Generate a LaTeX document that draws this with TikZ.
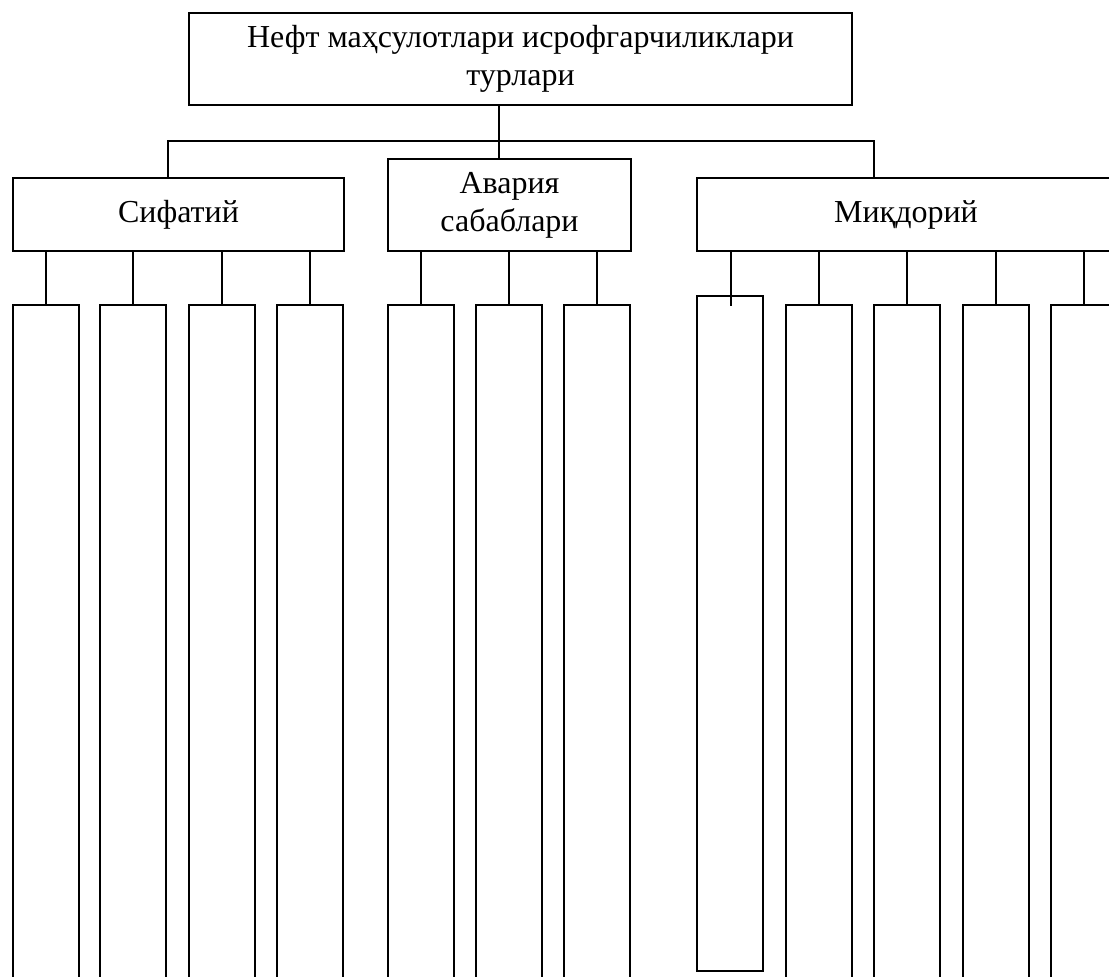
\documentclass[tikz,border=0pt]{standalone}
\usepackage{fontspec}
\setmainfont{Liberation Serif}
\usetikzlibrary{positioning, calc}

\tikzset{
  box/.style 2 args={draw, line width=0.8pt, inner sep=0pt, outer sep=0pt, anchor=north west,
    align=center, minimum width=#1*0.5pt, minimum height=#2*0.5pt,
    font=\fontsize{16}{19}\selectfont},
  leaf/.style={box={66}{700}},
  link/.style={line width=0.8pt},
}

\begin{document}
\begin{tikzpicture}[x=0.5pt,y=-0.5pt]

\useasboundingbox (0,0) rectangle (1109,977);
\clip (0,0) rectangle (1109,977);

\def\ytop{141}
\def\yleaf{305}

% main box
\node[box={663}{92}] (top) at (189,13) {Нефт маҳсулотлари исрофгарчиликлари\\турлари};

% second level
\node[box={331}{73}] (sif) at (13,178) {Сифатий};
\node[box={243}{92}] (avr) at (388,159) {Авария\\сабаблари};
\node[box={418}{73}] (mik) at (697,178) {Миқдорий};

% bus
\coordinate (hub) at (499,\ytop);
\coordinate (hl) at (168,\ytop);
\coordinate (hr) at (874,\ytop);
\draw[link] (top.south -| hub) -- (hub) -- (avr.north -| hub);
\draw[link] (hl |- sif.north) -- (hl) -- (hr) -- (hr |- mik.north);

% leaves
\foreach \x [count=\i] in {13,100,189,277} {
  \node[leaf] (s\i) at (\x,\yleaf) {};
  \draw[link] (s\i.north |- sif.south) -- (s\i.north);
}
\foreach \x [count=\i] in {388,476,564} {
  \node[leaf] (a\i) at (\x,\yleaf) {};
  \draw[link] (a\i.north |- avr.south) -- (a\i.north);
}
\node[box={66}{675}] (m1) at (697,296) {};
\coordinate (m1end) at (731,306);
\draw[link] (m1end |- mik.south) -- (m1end);
\foreach \x [count=\i from 2] in {786,874,963,1051} {
  \node[leaf] (m\i) at (\x,\yleaf) {};
  \draw[link] (m\i.north |- mik.south) -- (m\i.north);
}

\end{tikzpicture}
\end{document}
